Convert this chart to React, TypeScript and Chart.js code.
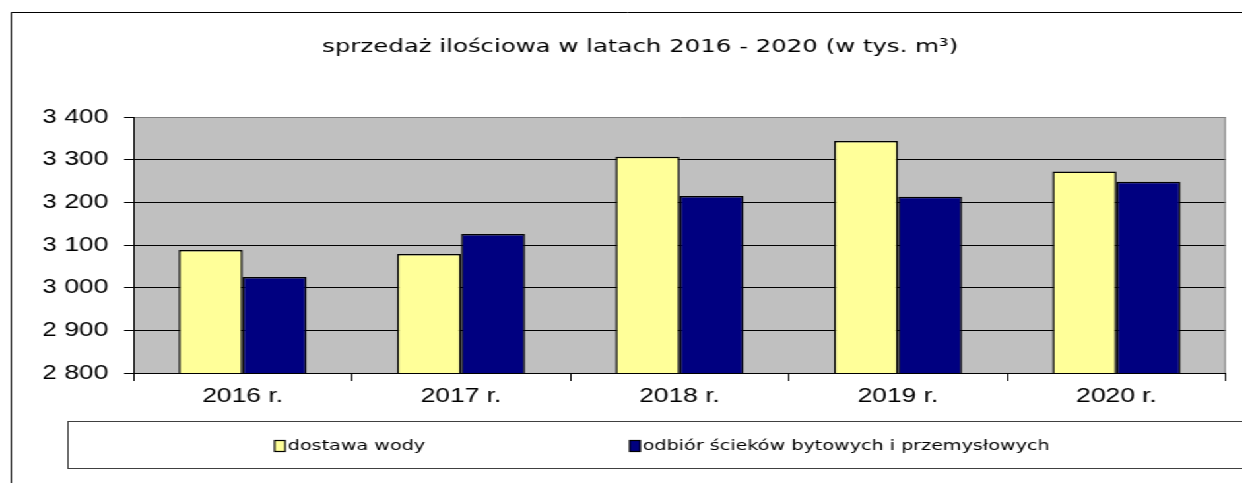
import React, { useEffect, useRef } from "react";
import { Chart, registerables } from "chart.js";

Chart.register(...registerables);

const titleText = "sprzedaż ilościowa w latach 2016 - 2020 (w tys. m³)";
const categories = ["2016 r.", "2017 r.", "2018 r.", "2019 r.", "2020 r."];
const seriesNames = ["dostawa wody", "odbiór ścieków bytowych i przemysłowych"];
const dostawaWody = [3088, 3079, 3307, 3344, 3272];
const odbiorSciekow = [3025, 3126, 3215, 3213, 3248];
const yMin = 2800;
const yMax = 3400;
const yStep = 100;

const STRETCH = 1.32;
const W = 941;
const H = 483;

const fmt = (v: number) => String(v).replace(/\B(?=(\d{3})+(?!\d))/g, " ");

const decorPlugin = {
  id: "decor",
  beforeDraw(chart: any) {
    const { ctx, chartArea } = chart;
    ctx.save();
    ctx.fillStyle = "#ffffff";
    ctx.fillRect(0, 0, chart.width, chart.height);
    ctx.fillStyle = "#C0C0C0";
    ctx.fillRect(chartArea.left, chartArea.top, chartArea.right - chartArea.left, chartArea.bottom - chartArea.top);
    ctx.restore();
  },
  afterDraw(chart: any) {
    const { ctx, chartArea } = chart;
    ctx.save();
    // outer frame
    ctx.strokeStyle = "#000";
    ctx.lineWidth = 1;
    ctx.beginPath();
    ctx.moveTo(8.5, H + 5);
    ctx.lineTo(8.5, 12.5);
    ctx.lineTo(W + 5, 12.5);
    ctx.stroke();
    // plot right border
    ctx.strokeStyle = "#808080";
    ctx.beginPath();
    ctx.moveTo(chartArea.right - 0.5, chartArea.top);
    ctx.lineTo(chartArea.right - 0.5, chartArea.bottom);
    ctx.stroke();
    // title
    ctx.fillStyle = "#000";
    ctx.font = "18.5px 'DejaVu Sans'";
    ctx.textAlign = "center";
    ctx.textBaseline = "middle";
    ctx.fillText(titleText, 485, 47);
    // legend box
    ctx.strokeStyle = "#404040";
    ctx.lineWidth = 1;
    ctx.strokeRect(51.5, 421.5, W + 20, 47);
    const items = [
      { x: 208, label: chart.data.datasets[0].label, color: chart.data.datasets[0].backgroundColor },
      { x: 477, label: chart.data.datasets[1].label, color: chart.data.datasets[1].backgroundColor },
    ];
    ctx.font = "14.5px 'DejaVu Sans'";
    ctx.textAlign = "left";
    for (const it of items) {
      ctx.fillStyle = it.color;
      ctx.fillRect(it.x, 440.5, 8, 11);
      ctx.strokeStyle = "#000";
      ctx.lineWidth = 1.2;
      ctx.strokeRect(it.x, 440.5, 8, 11);
      ctx.fillStyle = "#000";
      ctx.fillText(it.label, it.x + 10, 446);
    }
    ctx.restore();
  },
};

export default function App() {
  const ref = useRef<HTMLCanvasElement>(null);
  useEffect(() => {
    if (!ref.current) return;
    const chart = new Chart(ref.current, {
      type: "bar",
      data: {
        labels: categories,
        datasets: [
          {
            label: seriesNames[0],
            data: dostawaWody,
            backgroundColor: "#FFFF99",
            borderColor: "#000",
            borderWidth: 1.5,
            categoryPercentage: 0.586,
            barPercentage: 1,
          },
          {
            label: seriesNames[1],
            data: odbiorSciekow,
            backgroundColor: "#000080",
            borderColor: "#000",
            borderWidth: 1.5,
            categoryPercentage: 0.586,
            barPercentage: 1,
          },
        ],
      },
      options: {
        responsive: false,
        animation: false,
        devicePixelRatio: 1,
        layout: { padding: { left: 0, right: 12.4, top: 117, bottom: 70 } },
        plugins: { legend: { display: false }, tooltip: { enabled: false }, title: { display: false } },
        scales: {
          x: {
            offset: true,
            grid: { offset: true, drawOnChartArea: false, drawTicks: true, tickLength: 8, color: "#000", tickColor: "#000" },
            border: { display: true, color: "#000", width: 1 },
            ticks: { color: "#000", font: { family: "'Liberation Sans', Arial", size: 20 }, padding: 3, maxRotation: 0 },
            afterFit: (s: any) => { s.height = 40; },
          },
          y: {
            min: yMin,
            max: yMax,
            grid: {
              color: (c: any) => (c.tick && c.tick.value === yMax ? "#808080" : "#000"),
              tickColor: "#000",
              tickLength: 7,
              lineWidth: 1,
            },
            border: { display: true, color: "#000", width: 1 },
            ticks: {
              stepSize: yStep,
              color: "#000",
              padding: 12,
              font: { family: "'Liberation Sans', Arial", size: 20 },
              callback: (v: any) => fmt(Number(v)),
            },
            afterFit: (s: any) => { s.width = 101; },
          },
        },
      },
      plugins: [decorPlugin],
    });
    return () => chart.destroy();
  }, []);
  return (
    <div style={{ position: "absolute", left: 0, top: 0, width: W, height: H, transform: `scaleX(${STRETCH})`, transformOrigin: "0 0", background: "#fff" }}>
      <canvas ref={ref} width={W} height={H} style={{ width: W, height: H, display: "block" }} />
    </div>
  );
}
